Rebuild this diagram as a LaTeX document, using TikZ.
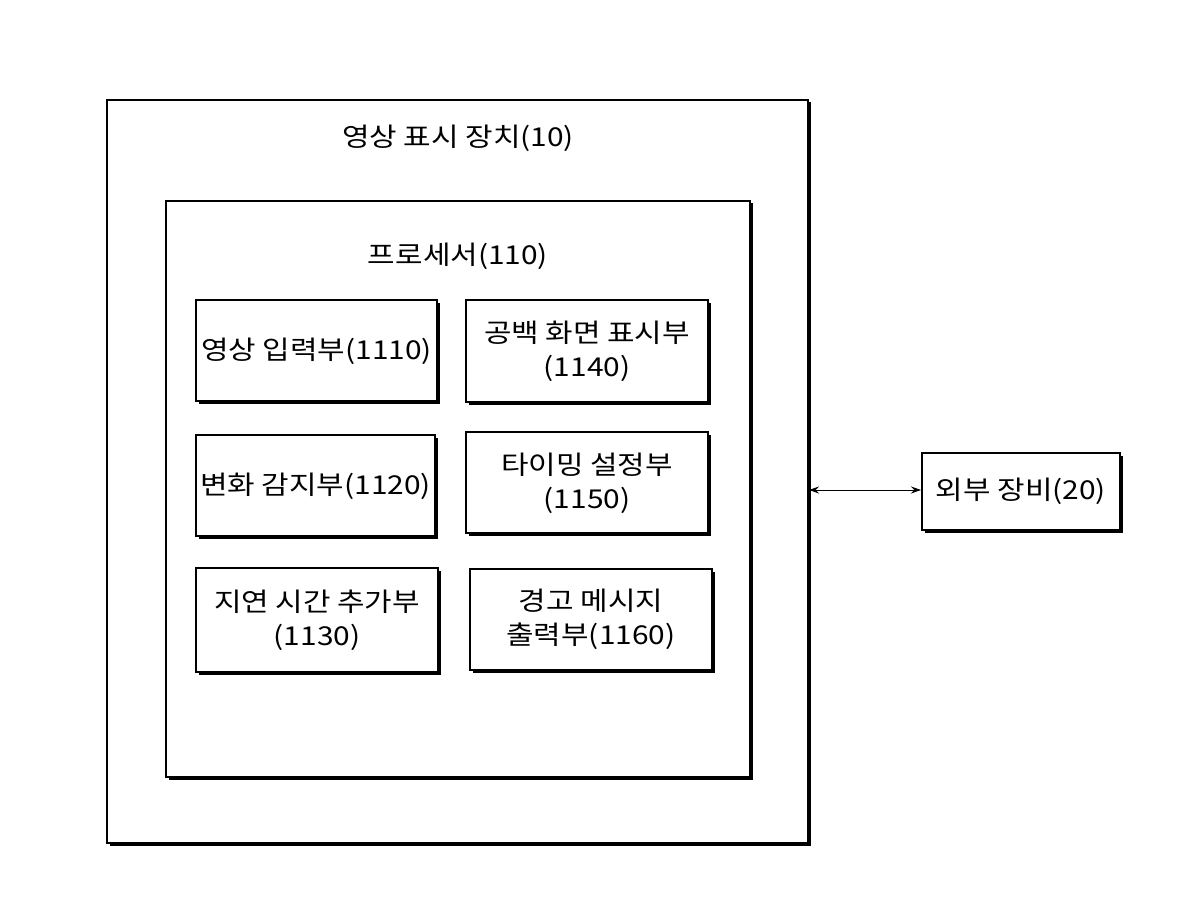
\documentclass[tikz,border=0pt]{standalone}
\usepackage{fontspec}
\setmainfont{Noto Sans CJK KR}[FakeStretch=1.15]
\usetikzlibrary{arrows.meta}
\begin{document}
\begin{tikzpicture}[x=1pt,y=-1pt,
  box/.style={draw=black,line width=1.3pt,fill=white,
    preaction={fill=black,transform canvas={xshift=2.5pt,yshift=-2.5pt}}},
  lbl/.style={font=\fontsize{26}{34}\selectfont,align=center}]
\useasboundingbox (0,0) rectangle (1200,912);
\fill[white] (0,0) rectangle (1200,912);
\draw[box] (107,100) rectangle (808,843);
\coordinate (devE) at (809,490);
\draw[box] (166,201) rectangle (750,777);
\node[lbl] (t1) at (458,138) {영상 표시 장치(10)};
\node[lbl] (t2) at (458,256) {프로세서(110)};
\draw[box] (196,300) rectangle (437,401); \node[lbl] (a) at (316.5,351) {영상 입력부(1110)};
\draw[box] (466,300) rectangle (708,402); \node[lbl] (b) at (587,351) {공백 화면 표시부\\(1140)};
\draw[box] (196,435) rectangle (435,536); \node[lbl] (c) at (315.5,486) {변화 감지부(1120)};
\draw[box] (466,432) rectangle (708,533); \node[lbl] (d) at (587,483) {타이밍 설정부\\(1150)};
\draw[box] (196,568) rectangle (438,672); \node[lbl] (e) at (317,620) {지연 시간 추가부\\(1130)};
\draw[box] (470,569) rectangle (712,670); \node[lbl] (f) at (591,619) {경고 메시지\\출력부(1160)};
\draw[box] (922,453) rectangle (1120,530); \node[lbl] (ext) at (1021,491) {외부 장비(20)};
\coordinate (extW) at (921,490);
\draw[line width=0.8pt,{Stealth[length=10pt,width=7pt]}-{Stealth[length=10pt,width=7pt]}] (devE) -- (extW);
\end{tikzpicture}
\end{document}
